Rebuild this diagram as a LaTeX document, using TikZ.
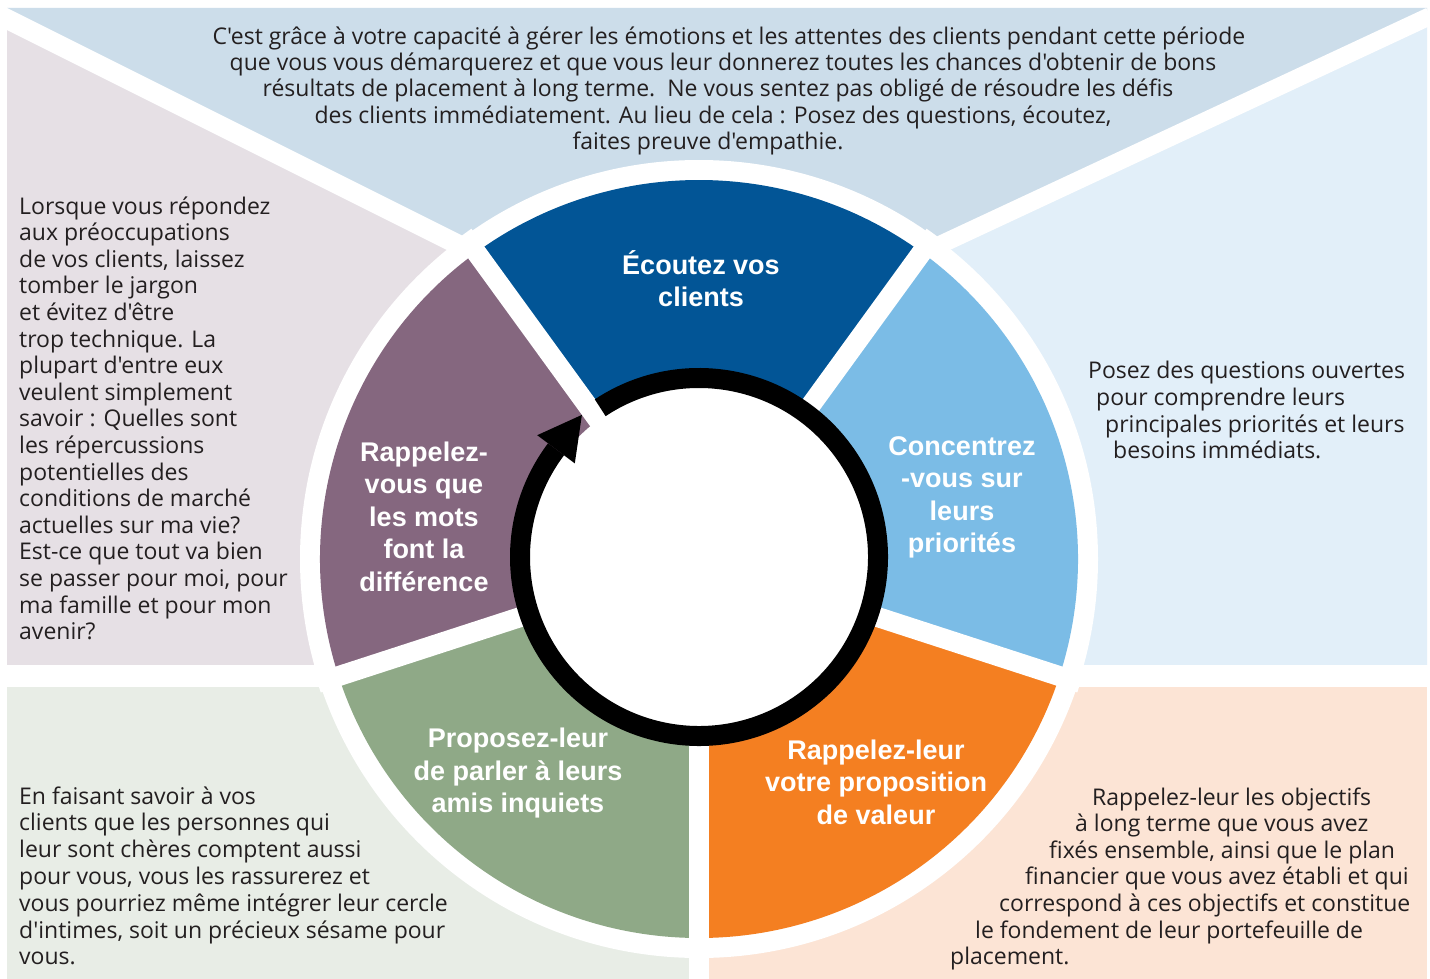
\documentclass[tikz,border=0pt]{standalone}
\usepackage{fontspec}
\setmainfont{Open Sans}[Ligatures=TeXOff]
\newfontfamily\labelfont{Liberation Sans}
\definecolor{segblue}{RGB}{2,85,150}
\definecolor{seglight}{RGB}{123,188,230}
\definecolor{segorange}{RGB}{244,127,33}
\definecolor{seggreen}{RGB}{143,169,135}
\definecolor{segpurple}{RGB}{133,103,127}
\definecolor{bgtop}{RGB}{204,221,234}
\definecolor{bgleft}{RGB}{230,224,229}
\definecolor{bgright}{RGB}{226,239,249}
\definecolor{bgbl}{RGB}{232,237,230}
\definecolor{bgbr}{RGB}{252,228,213}
\definecolor{inktext}{RGB}{35,31,32}
\begin{document}
\begin{tikzpicture}[x=1pt,y=-1pt,
  bodytext/.style={inner sep=0pt, anchor=base west, text=inktext, font=\fontsize{23}{26.5}\selectfont},
  bodycenter/.style={bodytext, anchor=base},
  seglabel/.style={inner sep=0pt, anchor=base, text=white, font=\labelfont\bfseries\fontsize{27}{32.6}\selectfont},
  divider/.style={draw=white, line width=#1}]
\useasboundingbox (0,0) rectangle (1430,979);
\fill[white] (0,0) rectangle (1430,979);

% background panels
\coordinate (X) at (691,361);
\fill[bgtop] (7,8) -- (1427,8) -- (1427,17.5) -- (X) -- (7,19) -- cycle;
\fill[bgleft] (7,19) -- (X) -- (699,676) -- (7,676) -- cycle;
\fill[bgright] (X) -- (1427,17.5) -- (1427,676) -- (699,676) -- cycle;
\fill[bgbl] (7,676) -- (699,676) -- (699,979) -- (7,979) -- cycle;
\fill[bgbr] (699,676) -- (1427,676) -- (1427,979) -- (699,979) -- cycle;

% white strips between the panels
\draw[divider=19.7pt] (0,15.5) -- (X);
\draw[divider=17.8pt] (1430,16.1) -- (X);
\draw[divider=22pt] (0,676) -- (1430,676);
\draw[divider=20pt] (699,559) -- (699,990);

% the wheel
\begin{scope}[shift={(699,559)}, yscale=-1]
  \fill[white] (0,0) circle[radius=399];
  \fill[segblue]   (0,0) -- (54:379)  arc[start angle=54,  end angle=126, radius=379] -- cycle;
  \fill[seglight]  (0,0) -- (-18:379) arc[start angle=-18, end angle=54,  radius=379] -- cycle;
  \fill[segorange] (0,0) -- (-90:379) arc[start angle=-90, end angle=-18, radius=379] -- cycle;
  \fill[seggreen]  (0,0) -- (198:379) arc[start angle=198, end angle=270, radius=379] -- cycle;
  \fill[segpurple] (0,0) -- (126:379) arc[start angle=126, end angle=198, radius=379] -- cycle;
  \foreach \a in {-90,-18,54,126,198}
    \draw[divider=20pt] (0,0) -- (\a:401);
  \begin{scope}[shift={(0,2)}]
    \fill[white] (0,0) circle[radius=170];
    \draw[black, line width=20pt] (123.5:179) arc[start angle=123.5, end angle=-217, radius=179];
    \fill[black] (-161.8,121.8) -- (-117.1,142.1) -- (-124.2,93.6) -- cycle;
  \end{scope}
\end{scope}

% segment labels
\foreach \t [count=\i from 0] in {Écoutez vos, clients}
  \node[seglabel] (lab1-\i) at (701, 274+32.6*\i) {\t};
\foreach \t [count=\i from 0] in {Concentrez, -vous sur, leurs, priorités}
  \node[seglabel] (lab2-\i) at (962, 455+32.6*\i) {\t};
\foreach \t [count=\i from 0] in {Rappelez-leur, votre proposition, de valeur}
  \node[seglabel] (lab3-\i) at (876, 759+32.6*\i) {\t};
\foreach \t [count=\i from 0] in {Proposez-leur, de parler à leurs, amis inquiets}
  \node[seglabel] (lab4-\i) at (518, 747.5+32.6*\i) {\t};
\foreach \t [count=\i from 0] in {Rappelez-, vous que, les mots, font la, différence}
  \node[seglabel] (lab5-\i) at (424, 461+32.6*\i) {\t};

% top panel text
\foreach \x/\t [count=\i from 0] in {
  729/{C'est grâce à votre capacité à gérer les émotions et les attentes des clients pendant cette période},
  723/{que vous vous démarquerez et que vous leur donnerez toutes les chances d'obtenir de bons},
  718/{résultats de placement à long terme.\ \ Ne vous sentez pas obligé de résoudre les défis},
  713/{des clients immédiatement. Au lieu de cela : Posez des questions, écoutez,},
  708/{faites preuve d'empathie.}}
  \node[bodycenter] (top-\i) at (\x, 44.5+26.2*\i) {\t};

% left panel text
\foreach \t [count=\i from 0] in {
  Lorsque vous répondez, aux préoccupations, {de vos clients, laissez},
  tomber le jargon, et évitez d'être, trop technique. La,
  plupart d'entre eux, veulent simplement, savoir : Quelles sont,
  les répercussions, potentielles des, conditions de marché,
  actuelles sur ma vie?, Est-ce que tout va bien, {se passer pour moi, pour},
  ma famille et pour mon, avenir?}
  \node[bodytext] (left-\i) at (19, 214+26.6*\i) {\t};

% right panel text
\foreach \x/\t [count=\i from 0] in {
  1088/Posez des questions ouvertes, 1096/pour comprendre leurs,
  1105/principales priorités et leurs, 1113/besoins immédiats.}
  \node[bodytext] (right-\i) at (\x, 378.5+26.8*\i) {\t};

% bottom-left panel text
\foreach \t [count=\i from 0] in {
  En faisant savoir à vos, clients que les personnes qui,
  leur sont chères comptent aussi, {pour vous, vous les rassurerez et},
  vous pourriez même intégrer leur cercle, {d'intimes, soit un précieux sésame pour},
  vous.}
  \node[bodytext] (bl-\i) at (19, 804+26.8*\i) {\t};

% bottom-right panel text
\foreach \x/\t [count=\i from 0] in {
  1092/Rappelez-leur les objectifs, 1075/à long terme que vous avez,
  1049/{fixés ensemble, ainsi que le plan}, 1025/financier que vous avez établi et qui,
  999/correspond à ces objectifs et constitue, 975/le fondement de leur portefeuille de,
  950/placement.}
  \node[bodytext] (br-\i) at (\x, 805+26.6*\i) {\t};
\end{tikzpicture}
\end{document}
